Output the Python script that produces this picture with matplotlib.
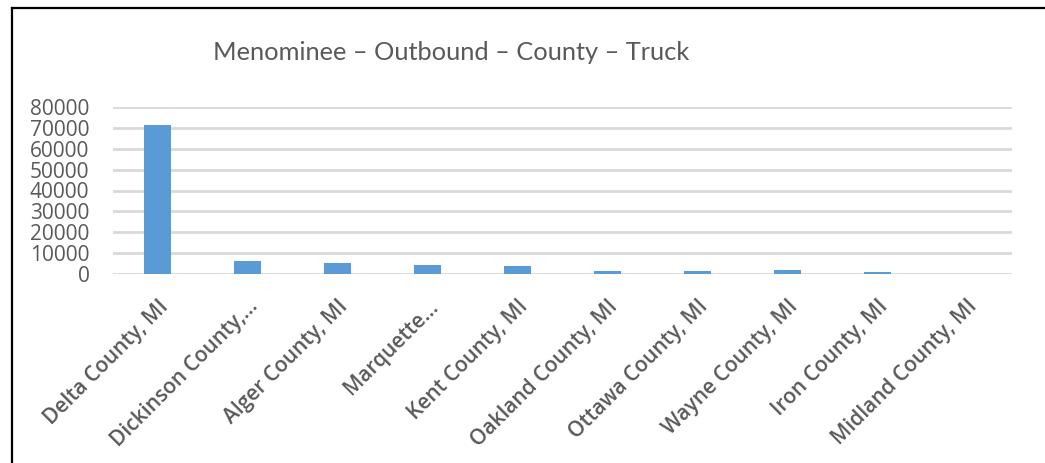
import matplotlib
matplotlib.use("Agg")
import matplotlib.pyplot as plt
from matplotlib.lines import Line2D

counties = ["Delta County, MI", "Dickinson County,…", "Alger County, MI", "Marquette…",
            "Kent County, MI", "Oakland County, MI", "Ottawa County, MI", "Wayne County, MI",
            "Iron County, MI", "Midland County, MI"]
tons = [71200, 6100, 5400, 4300, 3600, 1600, 1600, 1700, 900, 150]
yticks = [0, 10000, 20000, 30000, 40000, 50000, 60000, 70000, 80000]

W, H = 1045, 463
fig = plt.figure(figsize=(W / 100, H / 100), dpi=100)
ax = fig.add_axes([113 / W, 1 - 274 / H, (1012 - 113) / W, (274 - 107) / H])

x = list(range(len(counties)))
ax.bar(x, tons, width=0.30, color="#5b9bd5", zorder=3)
ax.set_xlim(-0.5, len(counties) - 0.5)
ax.set_ylim(0, 80000)
ax.set_yticks(yticks)
ax.set_yticklabels([str(v) for v in yticks], family="Open Sans", fontsize=15, color="#595959")
ax.yaxis.grid(True, color="#d9d9d9", linewidth=2)
ax.set_axisbelow(True)
ax.tick_params(axis="y", length=0, pad=17)
ax.tick_params(axis="x", length=0, pad=16)
ax.set_xticks(x)
ax.set_xticklabels(counties, rotation=45, ha="right", va="top", rotation_mode="anchor",
                   family="Open Sans", fontweight="semibold", fontsize=15, color="#595959")
for s in ax.spines.values():
    s.set_visible(False)

fig.text(451 / W, 1 - 53 / H, "Menominee – Outbound – County – Truck", ha="center", va="center",
         family="Lato", fontsize=18.3, color="#595959")

fig.add_artist(Line2D([12 / W, 1], [1 - 7.5 / H, 1 - 7.5 / H], transform=fig.transFigure,
                      color="black", linewidth=1.6))
fig.add_artist(Line2D([12 / W, 12 / W], [0, 1 - 7.5 / H], transform=fig.transFigure,
                      color="black", linewidth=1.6))

fig.savefig("out.png", dpi=100, facecolor="white")
